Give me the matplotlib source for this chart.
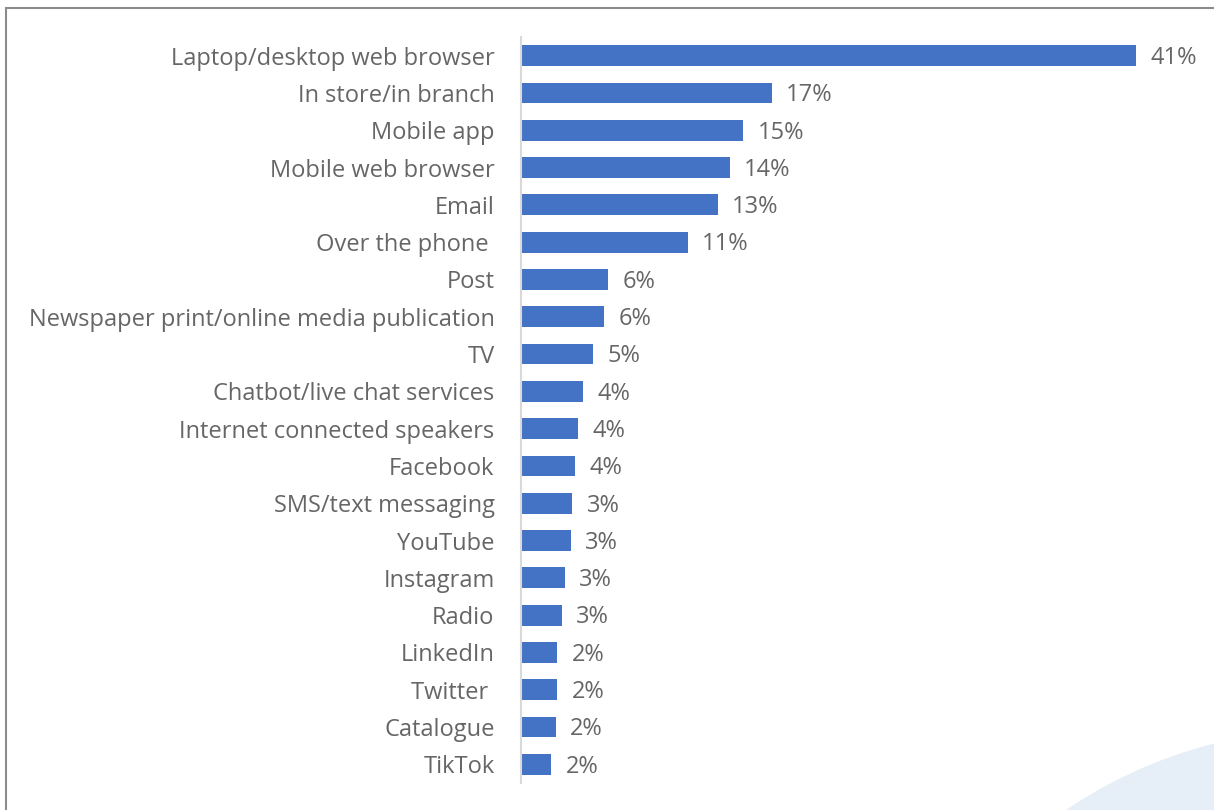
import numpy as np
import matplotlib
matplotlib.use('Agg')
import matplotlib.pyplot as plt
from matplotlib.patches import Circle

# channel names, top to bottom
channels = ['Laptop/desktop web browser', 'In store/in branch', 'Mobile app',
            'Mobile web browser', 'Email', 'Over the phone ', 'Post',
            'Newspaper print/online media publication', 'TV',
            'Chatbot/live chat services', 'Internet connected speakers',
            'Facebook', 'SMS/text messaging', 'YouTube', 'Instagram', 'Radio',
            'LinkedIn', 'Twitter ', 'Catalogue', 'TikTok']
# share of respondents (%)
share = [41.0, 16.7, 14.8, 13.9, 13.1, 11.1, 5.8, 5.55, 4.8, 4.1, 3.8, 3.6,
         3.4, 3.3, 2.9, 2.7, 2.4, 2.4, 2.3, 2.0]

W, H = 1214, 810
bar_col = '#4472c4'
txt_col = '#666666'
fs = 17
plt.rcParams['font.family'] = ['Open Sans', 'DejaVu Sans']

fig = plt.figure(figsize=(W/100, H/100), dpi=100)

# background layer in pixel units: frame and the pale disc at bottom right
bg = fig.add_axes([0, 0, 1, 1], zorder=-1)
bg.set_xlim(0, W); bg.set_ylim(H, 0); bg.axis('off')
bg.add_patch(Circle((1330, 1200), 471, facecolor='#e6eff8', edgecolor='none'))
bg.plot([W + 5, 5.5, 5.5], [7.5, 7.5, H + 5], color='#8c8c8c', lw=1.5,
        solid_joinstyle='miter')

ax = fig.add_axes([521/W, 27/H, 675/W, 746/H])
ax.patch.set_alpha(0)
y = np.arange(len(channels))
ax.barh(y, share, height=0.56, color=bar_col)
ax.set_ylim(len(channels) - 0.5, -0.5)
ax.set_xlim(0, 45)
ax.set_yticks(y)
ax.set_yticklabels(channels, fontsize=fs, color=txt_col)
ax.tick_params(axis='y', length=0, pad=19)
ax.set_xticks([])
for s in ['top', 'right', 'bottom']:
    ax.spines[s].set_visible(False)
ax.spines['left'].set_color('#d9d9d9')
ax.spines['left'].set_linewidth(1.5)

for yi, v in zip(y, share):
    ax.annotate('%d%%' % round(v), (v, yi), xytext=(10.5, -6.0),
                textcoords='offset points', va='baseline', ha='left',
                fontsize=fs, color=txt_col, annotation_clip=False)

fig.savefig('out.png', dpi=100)
